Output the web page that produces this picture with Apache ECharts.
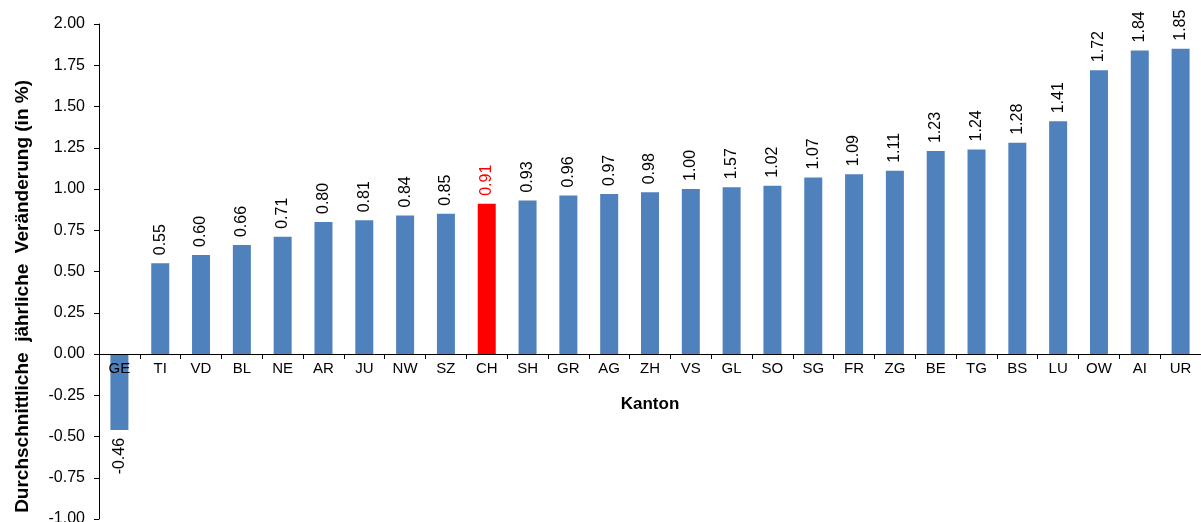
<!DOCTYPE html>
<html>
<head>
<meta charset="utf-8">
<script src="https://cdn.jsdelivr.net/npm/echarts@6/dist/echarts.min.js"></script>
<style>html,body{margin:0;padding:0;background:#fff;}#c{width:1201px;height:522px;}</style>
</head>
<body>
<div id="c"></div>
<script>
var categories = ['GE','TI','VD','BL','NE','AR','JU','NW','SZ','CH','SH','GR','AG','ZH','VS','GL','SO','SG','FR','ZG','BE','TG','BS','LU','OW','AI','UR'];
var values = [-0.46,0.55,0.60,0.66,0.71,0.80,0.81,0.84,0.85,0.91,0.93,0.96,0.97,0.98,1.00,1.01,1.02,1.07,1.09,1.11,1.23,1.24,1.28,1.41,1.72,1.84,1.85];
var valueLabels = ['-0.46','0.55','0.60','0.66','0.71','0.80','0.81','0.84','0.85','0.91','0.93','0.96','0.97','0.98','1.00','1.57','1.02','1.07','1.09','1.11','1.23','1.24','1.28','1.41','1.72','1.84','1.85'];
var yTicks = [-1.00,-0.75,-0.50,-0.25,0.00,0.25,0.50,0.75,1.00,1.25,1.50,1.75,2.00];
var highlight = 'CH';
var xTitle = 'Kanton';
var yTitle = 'Durchschnittliche  jährliche  Veränderung (in %)';

var FONT = '"Liberation Sans", Arial, sans-serif';
var data = values.map(function (v, i) {
  var isH = categories[i] === highlight;
  var neg = v < 0;
  return {
    value: v,
    itemStyle: { color: isH ? '#FF0000' : '#4F81BD' },
    label: {
      color: isH ? '#FF0000' : '#000',
      position: neg ? 'bottom' : 'top',
      align: neg ? 'right' : 'left'
    }
  };
});

var chart = echarts.init(document.getElementById('c'));
chart.setOption({
  animation: false,
  grid: { left: 99, right: 0, top: 24, bottom: 3, containLabel: false, outerBoundsMode: 'none' },
  graphic: [{
    type: 'text',
    left: 13,
    top: 80,
    rotation: Math.PI / 2,
    style: {
      text: yTitle,
      fill: '#000',
      font: 'bold 19px ' + FONT
    }
  }],
  xAxis: {
    type: 'category',
    data: categories,
    z: 5,
    axisLine: { onZero: false, lineStyle: { color: '#000', width: 1 } },
    axisTick: { show: true, alignWithLabel: false, length: 5, inside: false, lineStyle: { color: '#000' } },
    axisLabel: { color: '#000', fontSize: 15, fontFamily: FONT, margin: 7, interval: 0 },
    name: xTitle,
    nameLocation: 'middle',
    nameGap: 42,
    nameTextStyle: { color: '#000', fontSize: 17, fontWeight: 'bold', fontFamily: FONT }
  },
  yAxis: {
    type: 'value',
    min: yTicks[0],
    max: yTicks[yTicks.length - 1],
    interval: 0.25,
    splitLine: { show: false },
    axisLine: { show: true, lineStyle: { color: '#000' } },
    axisTick: { show: true, length: 5, lineStyle: { color: '#000' } },
    axisLabel: { color: '#000', fontSize: 16, fontFamily: FONT, margin: 14,
      formatter: function (v) { return v.toFixed(2); } }
  },
  series: [{
    type: 'bar',
    data: data,
    barWidth: 18,
    label: {
      show: true,
      rotate: 90,
      verticalAlign: 'middle',
      distance: 8,
      fontSize: 16,
      fontFamily: FONT,
      formatter: function (p) { return valueLabels[p.dataIndex]; }
    }
  }]
});
// place the category axis on the zero line using the library's own scale
var yZero = chart.convertToPixel({ yAxisIndex: 0 }, 0);
var yBottom = chart.convertToPixel({ yAxisIndex: 0 }, yTicks[0]);
chart.setOption({ xAxis: { offset: yZero - yBottom } });
</script>
</body>
</html>
